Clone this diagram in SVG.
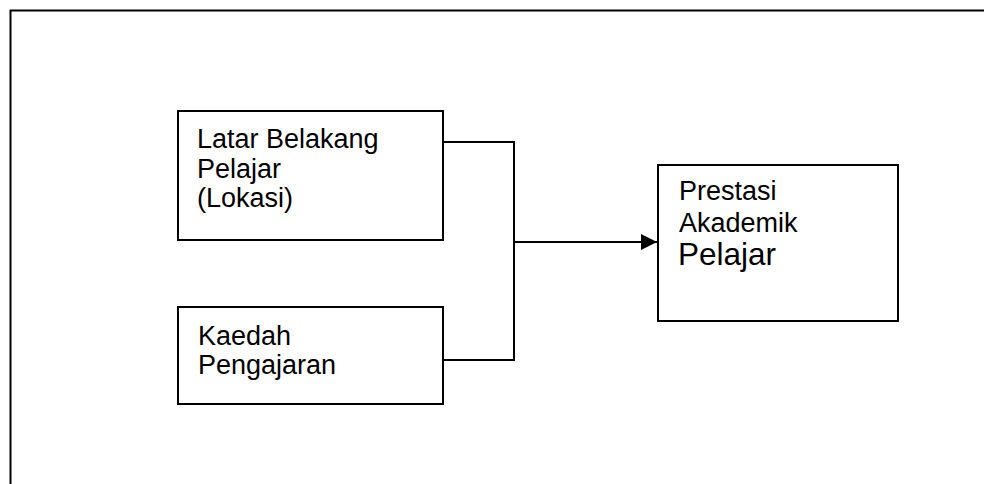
<svg xmlns="http://www.w3.org/2000/svg" width="984" height="484" viewBox="0 0 984 484">
<style>
.box{fill:#fff;stroke:#000;stroke-width:2}
.ln{fill:none;stroke:#000;stroke-width:2}
text{font-family:"Liberation Sans",Arial,sans-serif;font-size:27px;fill:#000}
.big{font-size:31.5px}
</style>
<defs>
<marker id="ah" markerUnits="userSpaceOnUse" markerWidth="17" markerHeight="16" refX="16" refY="8" orient="auto">
<path d="M0,0 L16,8 L0,16 Z" fill="#000"/>
</marker>
</defs>
<rect width="984" height="484" fill="#fff"/>
<path class="ln" d="M10.5,484 V10.5 H984"/>
<g id="connectors">
<path class="ln" d="M443,142 H514 V360 H443"/>
<path class="ln" d="M514,242 H657" marker-end="url(#ah)"/>
</g>
<g id="latar">
<rect class="box" x="178" y="111" width="265" height="129"/>
<text x="197" y="148">Latar Belakang</text>
<text x="197" y="178">Pelajar</text>
<text x="197" y="207">(Lokasi)</text>
</g>
<g id="kaedah">
<rect class="box" x="178" y="307" width="265" height="97"/>
<text x="198" y="345">Kaedah</text>
<text x="198" y="374">Pengajaran</text>
</g>
<g id="prestasi">
<rect class="box" x="658" y="165" width="240" height="156"/>
<text x="679" y="200">Prestasi</text>
<text x="679" y="232">Akademik</text>
<text class="big" x="678" y="265">Pelajar</text>
</g>
</svg>
